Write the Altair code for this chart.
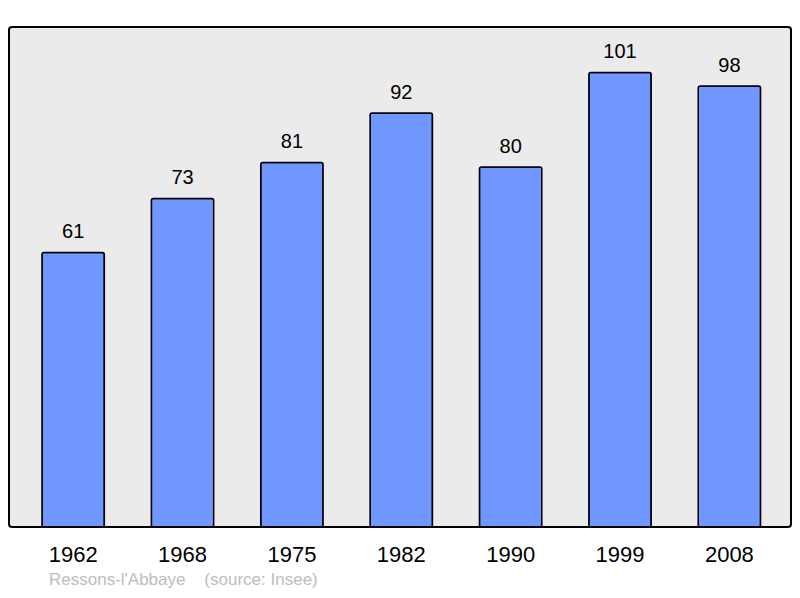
import altair as alt
import pandas as pd

years = ["1962", "1968", "1975", "1982", "1990", "1999", "2008"]
population = [61, 73, 81, 92, 80, 101, 98]
footer = "Ressons-l'Abbaye\u00a0\u00a0\u00a0\u00a0(source: Insee)"

df = pd.DataFrame({"year": years, "pop": population})

FONT = "Liberation Sans"

x = alt.X(
    "year:N",
    sort=years,
    title=None,
    scale=alt.Scale(paddingInner=0.43, paddingOuter=0.29, align=0.52),
    axis=alt.Axis(
        domain=False,
        ticks=False,
        labelAngle=0,
        labelFontSize=22,
        labelFont=FONT,
        labelColor="#000000",
        labelPadding=17,
        labelBaseline="top",
    ),
)
y = alt.Y("pop:Q", scale=alt.Scale(domain=[0, 111.1], nice=False, zero=True), axis=None)

bars = alt.Chart(df).mark_bar(
    color="#7097ff",
    stroke="#000000",
    strokeWidth=1.5,
    cornerRadius=2,
).encode(x=x, y=y)

labels = alt.Chart(df).mark_text(
    dy=-14,
    baseline="alphabetic",
    fontSize=20,
    font=FONT,
    color="#000000",
).encode(x=x, y=y, text="pop:Q")

chart = (
    alt.layer(bars, labels)
    .properties(
        width=782,
        height=500,
        background="#ffffff",
        autosize=alt.AutoSizeParams(type="none"),
        padding={"left": 1, "top": 19, "right": 1, "bottom": 63},
        title=alt.TitleParams(
            text=footer,
            orient="bottom",
            anchor="start",
            dx=40,
            offset=7,
            fontSize=17,
            font=FONT,
            fontWeight="normal",
            color="#bdbdbd",
        ),
    )
    .configure_view(
        fill="#ebebeb",
        stroke="#000000",
        strokeWidth=2,
        cornerRadius=3,
    )
)

chart.save("out.html", embed_options={"renderer": "svg", "actions": False})
